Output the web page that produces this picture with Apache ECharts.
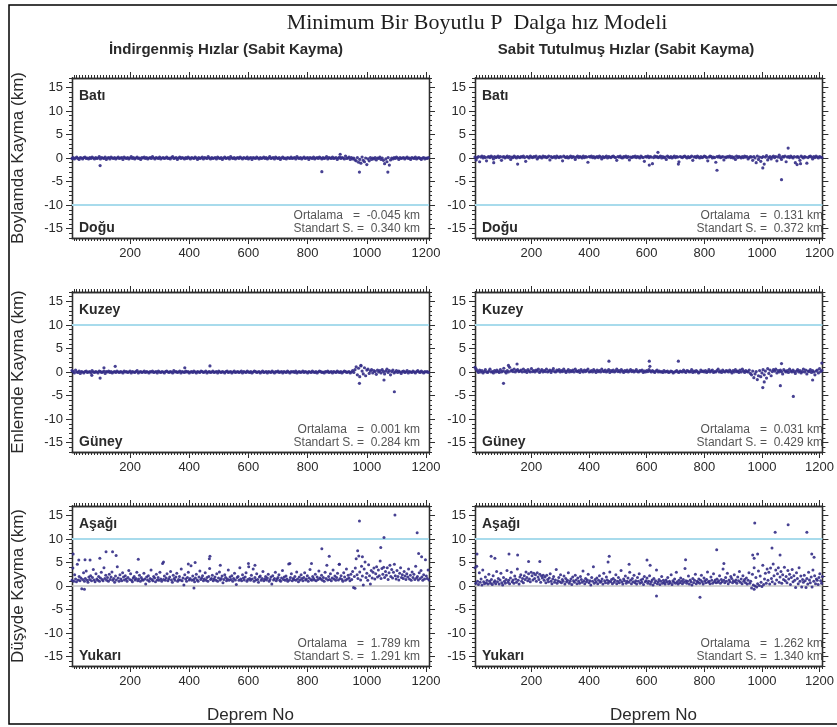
<!DOCTYPE html>
<html>
<head>
<meta charset="utf-8">
<script src="https://cdn.jsdelivr.net/npm/echarts@6/dist/echarts.min.js"></script>
<style>
  html, body { margin: 0; background: #fff; }
  #chart { width: 837px; height: 727px; }
</style>
</head>
<body>
<div id="chart"></div>
<script>
// earthquakes are sampled: value i belongs to earthquake FIRST_EQ + step * i
const FIRST_EQ = 4;
const STEP_H = 4;   // horizontal panels (rows 1-2)
const STEP_V = 3;   // vertical panels (row 3)

const xTicks = [200, 400, 600, 800, 1000, 1200];
const yTicks = [-15, -10, -5, 0, 5, 10, 15];

const chartTitle = 'Minimum Bir Boyutlu P  Dalga hız Modeli';
const colTitles = ['İndirgenmiş Hızlar (Sabit Kayma)', 'Sabit Tutulmuş Hızlar (Sabit Kayma)'];
const rowNames = ['Boylamda Kayma (km)', 'Enlemde Kayma (km)', 'Düşyde Kayma (km)'];
const rowTopWord = ['Batı', 'Kuzey', 'Aşağı'];
const rowBottomWord = ['Doğu', 'Güney', 'Yukarı'];
const cyanLines = [[-10], [10], [10]];
const greyLines = [[], [], [0]];
const meanText = ['-0.045', '0.131', '0.001', '0.031', '1.789', '1.262'];
const stdText = ['0.340', '0.372', '0.284', '0.429', '1.291', '1.340'];

// Boylam (E-W), indirgenmiş hızlar
const ewRed = [
  -0.1,0.1,-0.2,0.0,0.2,-0.1,-0.3,0.1,0.0,-0.2,0.1,0.2,-0.1,0.0,-0.2,0.1,-0.1,0.2,0.0,-0.2,
  0.1,-0.1,0.0,0.3,-0.2,0.1,0.0,-0.1,0.2,-0.3,0.0,0.1,-0.2,0.2,0.0,-0.1,0.1,-0.2,0.0,0.2,
  -0.1,0.0,0.1,-0.3,0.2,0.0,-0.1,0.1,-0.2,0.0,0.3,-0.1,0.1,-0.2,0.0,0.2,-0.1,0.0,-0.3,0.1,
  0.0,0.2,-0.1,0.1,-0.2,0.0,0.1,-0.1,0.3,0.0,-0.2,0.1,0.0,-0.1,0.2,-0.2,0.0,0.1,-0.1,0.0,
  0.2,-0.1,0.0,-0.2,0.1,0.3,-0.1,0.0,0.1,-0.3,0.0,0.2,-0.1,0.1,0.0,-0.2,0.1,-0.1,0.2,0.0,
  -0.2,0.1,0.0,-0.1,0.2,0.0,-0.3,0.1,-0.1,0.0,0.2,-0.2,0.1,0.0,-0.1,0.3,0.0,-0.2,0.1,-0.1,
  0.0,0.1,-0.2,0.2,0.0,-0.1,0.1,-0.3,0.0,0.2,-0.1,0.0,0.1,-0.2,0.3,0.0,-0.1,0.1,-0.2,0.0,
  0.1,-0.1,0.2,0.0,-0.2,0.1,0.0,-0.1,0.2,-0.2,0.0,0.1,-0.3,0.1,0.0,-0.1,0.2,0.0,-0.2,0.1,
  -0.1,0.0,0.2,-0.1,0.1,-0.2,0.0,0.3,-0.1,0.0,0.1,-0.2,0.2,0.0,-0.1,0.1,-0.3,0.0,0.2,-0.1,
  0.0,-0.2,0.1,0.0,-0.1,0.2,-0.1,0.0,0.1,-0.2,0.3,0.0,-0.1,0.1,-0.2,0.0,0.2,-0.1,0.0,0.1,
  -0.3,0.1,0.0,-0.1,0.2,-0.2,0.0,0.1,-0.1,0.2,0.0,-0.2,0.1,-0.1,0.0,0.3,-0.2,0.1,0.0,-0.1,
  0.2,-0.1,0.0,0.1,-0.3,0.0,0.2,-0.1,0.1,0.0,-0.2,0.4,-0.1,0.0,0.2,-0.3,0.1,-0.2,0.0,-0.4,
  -0.6,0.1,-0.9,-0.3,-1.1,0.2,-0.5,-0.8,0.0,-1.4,-0.2,-0.6,0.1,-0.3,0.0,-0.2,0.1,-0.4,0.0,-0.1,
  0.2,-0.3,0.0,-0.5,-1.2,-0.2,-0.8,0.1,-1.5,-0.4,0.0,-0.2,0.1,-0.1,0.2,0.0,-0.3,0.1,-0.1,0.0,
  0.1,-0.2,0.0,0.2,-0.1,0.0,-0.3,0.1,0.0,-0.1,0.2,-0.2,0.0,0.1,-0.1,-0.3,0.0,0.1,-0.2,0.0,
  -0.1,0.1
];
const ewRedOut = [[99, -1.6], [848, -2.9], [910, 0.8], [975, -3.0], [1071, -3.0]];

// Boylam (E-W), sabit tutulmuş hızlar
const ewFix = [
  0.2,-0.4,0.1,0.3,-0.8,0.2,0.4,0.0,0.3,0.1,-0.6,0.2,0.3,0.1,0.4,0.2,-0.2,0.3,0.1,0.2,
  0.4,0.1,0.3,-0.5,0.2,0.3,0.0,0.2,0.4,0.1,0.3,-0.3,0.2,0.1,0.4,0.2,0.0,0.3,0.2,0.1,
  0.3,0.2,0.4,0.1,-0.7,0.3,0.2,0.0,0.4,0.2,0.1,0.3,0.2,0.4,-0.2,0.1,0.3,0.2,0.0,0.4,
  0.2,0.3,0.1,0.2,0.4,-0.4,0.3,0.1,0.2,0.3,0.0,0.4,0.2,0.1,0.3,0.2,-0.6,0.4,0.2,0.1,
  0.3,0.0,0.2,0.4,0.1,0.3,0.2,-0.3,0.2,0.4,0.1,0.3,0.2,0.0,0.4,0.1,0.3,0.2,-0.9,0.3,
  0.2,0.4,0.1,0.3,0.0,0.2,0.3,0.1,0.4,0.2,-0.2,0.3,0.1,0.2,0.4,0.0,0.3,0.2,0.1,0.3,
  0.4,0.2,0.1,-0.5,0.3,0.2,0.4,0.1,0.0,0.3,0.2,0.4,0.1,0.3,-0.4,0.2,0.1,0.3,0.2,0.4,
  0.1,0.3,0.2,0.0,0.4,0.2,0.1,-0.7,0.3,0.2,0.4,0.1,0.3,0.2,-1.2,0.1,0.4,0.2,0.3,0.1,
  0.2,0.4,0.0,0.3,0.1,0.2,-0.3,0.4,0.2,0.1,0.3,0.0,0.2,0.4,0.1,0.3,0.2,-0.8,0.3,0.2,
  0.1,0.3,0.4,0.2,0.0,0.3,0.1,0.2,0.4,-0.5,0.2,0.3,0.1,0.4,0.2,0.0,0.3,0.1,0.2,0.4,
  0.3,0.1,-0.6,0.2,0.4,0.3,0.0,0.2,0.1,-0.9,0.3,0.2,0.4,0.1,0.2,0.3,-0.4,0.2,0.1,0.3,
  0.2,0.4,0.1,0.3,0.0,0.2,-0.3,0.4,0.1,0.3,0.2,0.0,0.3,0.1,0.4,0.2,0.3,-0.2,0.1,0.3,
  0.2,-0.5,0.3,0.0,-1.0,0.4,-0.3,0.2,-0.7,0.1,0.3,-1.3,0.2,0.5,-0.4,0.1,0.3,-0.2,0.2,0.4,
  0.1,0.3,-0.6,0.2,0.6,0.1,-0.3,0.3,0.2,0.4,-0.8,0.2,0.3,0.1,0.4,0.2,0.0,0.3,-1.0,0.2,
  0.3,0.1,-0.5,0.4,0.2,0.0,0.3,0.2,-1.1,0.1,0.3,0.4,0.2,-0.2,0.3,0.1,0.4,0.2,0.0,0.3,
  0.2,0.1
];
const ewFixOut = [[69, -1.0], [152, -1.3], [609, -1.5], [639, 1.2], [710, -1.3], [844, -2.6],
  [1003, -2.1], [1068, -4.6], [1091, 2.1], [1122, -1.4], [1134, -1.2]];

// Enlem (N-S), indirgenmiş hızlar
const nsRed = [
  0.3,0.1,-0.2,0.4,0.0,-0.1,0.2,-0.3,0.1,0.0,-0.2,0.1,0.2,-0.1,0.0,0.1,-0.2,0.3,0.0,-0.1,
  0.1,0.0,-0.2,0.2,0.1,-0.1,0.0,0.2,-0.3,0.1,0.0,0.2,-0.1,0.1,-0.2,0.0,0.1,-0.1,0.2,0.0,
  -0.1,0.1,0.0,-0.2,0.2,0.0,0.1,-0.1,0.0,0.2,-0.2,0.1,0.0,-0.1,0.1,0.3,-0.2,0.0,0.1,-0.1,
  0.0,0.2,-0.1,0.1,0.0,-0.2,0.1,0.0,0.2,-0.1,0.0,0.1,-0.2,0.2,0.0,-0.1,0.1,0.0,-0.2,0.1,
  0.2,0.0,-0.1,0.1,0.0,-0.2,0.3,0.0,0.1,-0.1,0.0,0.2,-0.2,0.1,0.0,-0.1,0.2,0.0,0.1,-0.2,
  0.0,0.1,-0.1,0.2,0.0,-0.2,0.1,0.0,-0.1,0.2,0.1,-0.1,0.0,0.2,-0.2,0.0,0.1,-0.1,0.0,0.2,
  -0.1,0.0,0.1,-0.2,0.2,0.0,-0.1,0.1,0.0,-0.2,0.1,0.2,-0.1,0.0,0.1,-0.2,0.0,0.2,-0.1,0.0,
  0.1,-0.1,0.0,0.2,-0.2,0.1,0.0,-0.1,0.2,0.0,-0.1,0.1,-0.2,0.0,0.2,0.1,-0.1,0.0,0.1,-0.2,
  0.0,0.2,-0.1,0.0,0.1,-0.2,0.1,0.0,-0.1,0.2,0.0,-0.2,0.1,0.0,0.2,-0.1,0.0,0.1,-0.2,0.1,
  0.0,-0.1,0.2,0.0,-0.2,0.1,0.0,0.1,-0.1,0.2,-0.2,0.0,0.1,-0.1,0.0,0.2,-0.1,0.1,0.0,-0.2,
  0.1,0.0,-0.1,0.2,0.0,-0.1,0.1,-0.2,0.0,0.2,0.1,-0.1,0.0,-0.2,0.1,0.0,0.2,-0.1,0.0,0.1,
  -0.2,0.1,0.0,-0.1,0.2,0.0,-0.1,0.1,-0.2,0.0,0.2,0.1,-0.1,0.0,0.1,-0.2,0.0,0.3,-0.1,0.5,
  1.1,-0.6,0.8,-1.0,1.3,0.2,-0.4,0.9,-0.8,0.4,0.6,-0.3,0.2,0.5,-0.2,0.3,0.1,-0.5,0.4,0.0,
  0.3,-0.2,0.5,0.1,-0.4,0.2,0.6,-0.1,0.3,-0.6,0.1,0.4,-0.2,0.0,0.3,-0.1,0.2,0.0,-0.3,0.1,
  0.2,-0.1,0.0,0.3,-0.2,0.1,0.0,-0.1,0.2,0.0,-0.2,0.1,0.3,0.0,-0.1,0.2,0.0,-0.2,0.1,0.0,
  0.1,-0.1
];
const nsRedOut = [[71, -0.7], [99, -1.3], [112, 0.9], [150, 1.2], [385, 0.9], [470, 1.3],
  [975, -2.4], [980, 1.4], [1058, -1.7], [1093, -4.2]];

// Enlem (N-S), sabit tutulmuş hızlar
const nsFix = [
  1.0,0.6,0.2,-0.1,0.4,0.0,0.3,-0.2,0.1,0.5,0.0,-0.1,0.2,0.6,0.0,0.1,-0.2,0.3,0.0,0.4,
  0.1,-0.1,0.5,0.0,0.2,0.8,0.1,-0.2,0.3,0.0,1.0,0.2,0.4,0.1,0.6,0.0,0.3,0.5,0.1,0.2,
  0.4,0.0,0.6,0.1,0.3,-0.1,0.5,0.2,0.0,0.7,0.1,0.3,0.0,0.4,0.2,0.6,-0.1,0.2,0.5,0.0,
  0.3,0.1,0.6,0.0,0.2,0.4,-0.1,0.3,0.7,0.1,0.0,0.4,0.2,0.5,0.0,0.3,0.1,0.6,0.2,-0.1,
  0.2,0.5,0.0,0.3,0.1,0.4,0.0,0.6,0.2,0.1,0.3,-0.1,0.5,0.2,0.0,0.4,0.1,0.3,0.6,0.0,
  0.1,0.3,0.0,0.5,0.2,-0.1,0.4,0.1,0.3,0.0,0.6,0.2,0.1,0.4,0.0,0.2,0.5,-0.1,0.3,0.1,
  0.4,0.0,0.2,0.6,0.1,0.3,0.0,0.5,0.2,-0.1,0.3,0.1,0.4,0.0,0.2,0.5,0.1,0.3,0.0,0.2,
  0.5,0.1,0.0,0.3,0.2,0.4,-0.1,0.2,0.0,0.3,0.1,0.5,0.2,0.0,0.3,0.1,-0.1,0.2,0.4,0.0,
  0.2,0.0,0.1,-0.1,0.3,0.0,0.1,0.2,-0.1,0.0,0.2,0.1,-0.2,0.0,0.1,0.3,0.0,-0.1,0.2,0.1,
  0.0,0.4,0.1,-0.1,0.3,0.2,0.0,0.1,0.5,-0.1,0.2,0.0,0.3,0.1,-0.2,0.0,0.4,0.1,0.2,0.0,
  0.3,-0.1,0.1,0.5,0.0,0.2,0.4,-0.1,0.1,0.0,0.3,0.6,0.0,0.2,-0.1,0.4,0.1,0.0,0.3,0.2,
  0.0,0.4,0.1,-0.2,0.3,0.0,0.5,0.1,0.2,-0.1,0.4,0.0,0.6,0.2,-0.1,0.3,0.1,0.0,0.4,-0.3,
  -0.6,0.2,-1.2,-0.4,0.1,-1.6,-0.8,0.3,-1.0,-0.2,0.5,-0.6,0.2,-1.3,0.7,-0.3,0.4,-0.8,0.1,0.5,
  0.2,0.6,-0.2,0.3,0.0,0.4,0.1,-0.4,0.5,0.2,0.0,0.3,-0.1,0.6,0.2,0.0,0.4,0.1,-0.3,0.2,
  0.5,0.0,0.3,-0.2,0.1,0.6,0.0,0.4,-0.4,0.2,0.1,0.5,-0.1,0.3,0.0,-0.6,0.2,0.4,-0.2,0.7,
  0.1,0.3
];
const nsFixOut = [[103, -2.4], [120, 1.4], [150, 1.7], [469, 2.3], [609, 2.3], [611, 1.2],
  [710, 2.3], [1003, -3.3], [1008, -2.1], [1064, -2.9], [1068, 1.8], [1109, -5.2],
  [1176, -1.7], [1208, 1.9]];

// Düşey, indirgenmiş hızlar
const udRed = [
  1.2,3.8,1.0,2.4,1.5,0.9,4.6,1.3,2.0,1.1,1.7,-0.6,1.4,2.8,1.0,1.6,3.2,1.2,0.8,1.9,
  1.4,2.2,1.1,1.8,3.5,1.3,0.9,2.6,1.5,1.2,2.0,1.0,1.7,2.9,1.4,1.1,3.9,1.6,2.3,1.2,
  1.8,1.0,2.5,1.4,1.9,3.0,1.2,1.6,0.8,2.1,1.3,4.1,1.7,1.0,2.4,1.5,1.1,2.8,1.9,1.3,
  2.2,1.5,1.0,1.8,3.3,1.4,2.6,1.2,0.9,1.7,2.0,1.3,1.6,2.9,1.1,1.5,2.3,1.0,1.8,1.4,
  1.2,2.7,1.5,0.4,1.9,1.3,2.2,1.0,1.6,3.4,1.4,1.1,2.0,1.7,0.9,2.5,1.3,1.8,1.2,2.9,
  1.5,1.0,4.8,1.4,2.1,1.2,1.7,2.6,1.1,1.5,1.9,3.1,1.3,0.8,2.3,1.6,1.2,1.9,2.7,1.0,
  1.4,2.0,1.3,3.6,1.1,1.7,0.2,2.4,1.5,1.0,1.8,2.9,1.3,1.6,4.3,1.2,2.1,1.4,0.9,1.7,
  2.5,1.3,1.0,1.9,3.2,1.4,1.7,2.2,1.1,1.5,2.8,1.2,1.8,1.0,2.0,3.7,1.4,1.6,2.3,1.1,
  1.5,1.9,1.2,2.6,1.0,1.7,3.0,1.3,1.6,2.1,0.7,1.4,2.4,1.8,1.1,1.5,3.4,1.2,1.9,1.4,
  2.2,1.0,1.6,2.7,1.3,0.3,1.8,2.0,1.2,3.9,1.5,1.1,2.4,1.7,1.3,1.9,2.8,1.0,1.4,4.1,
  1.6,1.2,2.3,1.5,3.6,1.0,1.8,1.3,2.6,1.4,0.8,1.9,2.1,1.2,1.6,3.1,1.1,1.5,2.0,1.3,
  1.7,2.5,1.0,1.4,1.9,0.4,2.2,1.3,1.6,2.9,1.1,1.5,1.8,2.4,1.2,1.0,1.7,3.3,1.4,1.9,
  1.2,2.1,1.5,1.0,4.7,1.3,1.8,2.6,1.1,1.6,1.4,2.0,1.2,3.0,1.5,0.9,1.9,1.3,2.4,1.6,
  1.1,1.8,2.8,1.3,1.5,2.2,1.0,1.7,3.5,1.4,1.2,2.0,1.6,1.3,2.5,1.1,1.9,1.4,3.2,1.7,
  1.5,2.3,1.2,1.8,1.0,2.9,1.6,4.4,1.3,2.0,1.4,2.6,1.1,1.7,3.4,1.5,2.1,1.2,1.8,2.7,
  1.3,4.6,1.6,2.2,1.4,1.0,2.8,1.9,1.2,3.6,1.5,2.3,1.7,1.1,2.5,1.4,3.1,-0.3,2.0,3.8,
  5.8,2.4,1.6,6.4,3.0,1.3,4.2,2.1,0.2,3.6,5.1,1.8,2.7,1.2,4.5,2.2,0.4,3.3,1.7,2.9,
  3.8,1.5,2.6,4.1,1.9,3.4,2.2,5.3,1.6,3.7,2.5,4.0,1.8,3.1,2.3,3.9,1.4,2.8,4.4,2.0,
  3.5,1.7,2.9,4.6,2.2,1.5,3.3,2.0,1.3,2.7,3.9,1.8,2.4,1.6,3.1,2.1,1.4,2.6,1.9,3.6,
  1.5,2.3,1.2,3.0,1.8,2.5,1.4,4.2,1.7,2.0,1.3,2.8,1.6,3.3,1.9,1.2,2.4,1.5,5.6,2.1,
  1.6,3.4,1.3
];
const udRedOut = [[8, 6.8], [27, 5.5], [48, 5.6], [65, 5.5], [98, 5.9], [119, 7.3], [141, 7.3],
  [153, 6.5], [228, 5.7], [313, 5.1], [397, 4.7], [420, 5.0], [468, 5.8], [470, 6.3], [505, 4.4],
  [600, 4.8], [622, 4.4], [740, 4.8], [813, 4.8], [848, 7.9], [873, 6.3], [907, 4.6], [969, 7.5],
  [975, 13.8], [985, 6.2], [1047, 8.2], [1058, 10.3], [1095, 15.1], [1170, 11.3], [1175, 6.9],
  [1185, 6.2], [46, -0.7], [416, -0.4], [960, -0.5]];

// Düşey, sabit tutulmuş hızlar
const udFix = [
  3.9,0.6,4.2,1.0,0.3,2.8,0.8,1.5,0.2,3.4,0.9,0.5,1.9,0.7,1.2,0.4,2.5,1.0,0.6,1.4,
  0.3,2.2,0.8,1.1,0.5,3.1,0.9,1.6,0.4,1.3,2.7,0.7,0.2,1.8,1.0,0.6,1.4,3.3,0.8,1.2,
  0.5,1.7,2.9,0.9,1.3,0.6,2.1,1.5,0.8,3.6,1.2,0.4,1.9,2.4,1.0,1.6,0.7,2.2,1.4,3.0,
  1.8,1.1,2.6,1.5,0.9,2.9,2.2,1.3,2.7,1.6,2.4,1.0,2.8,1.9,1.4,2.5,0.8,2.1,1.7,2.3,
  1.2,1.9,0.7,2.3,1.4,0.9,1.7,2.6,1.0,0.5,1.5,2.0,0.8,1.3,3.5,0.6,1.1,1.8,0.9,2.4,
  0.7,1.4,1.0,2.1,0.4,1.6,0.9,1.2,2.8,0.6,1.0,1.5,0.3,1.9,1.1,0.8,2.3,1.3,0.5,1.7,
  1.0,0.6,2.0,1.4,0.8,3.2,1.1,0.5,1.6,0.9,1.3,2.5,0.7,1.1,0.2,1.8,1.0,4.1,0.6,1.4,
  0.9,1.7,0.5,1.2,2.2,0.8,1.0,1.5,0.4,2.7,1.1,0.7,1.9,1.3,0.6,1.0,3.0,0.9,1.4,0.5,
  1.6,0.8,1.2,2.4,0.5,1.0,1.8,0.7,1.3,3.3,0.9,0.4,1.5,1.1,2.1,0.6,1.0,1.7,0.8,2.9,
  1.2,0.5,1.6,0.9,2.3,0.7,1.1,0.4,1.8,1.0,2.6,0.6,1.3,0.8,1.5,0.3,2.0,0.9,1.1,1.7,
  0.6,1.0,2.2,0.4,0.9,1.3,0.2,1.6,0.7,1.1,3.4,0.5,0.9,1.4,0.3,1.0,2.0,0.6,1.2,0.8,
  0.4,1.3,0.9,1.8,0.5,1.0,0.7,2.4,0.3,1.1,0.8,1.5,0.6,2.9,0.9,0.4,1.2,0.7,1.7,1.0,
  0.5,1.4,0.8,3.7,1.1,0.6,1.0,2.1,0.4,1.3,0.9,0.2,1.6,0.7,1.2,2.5,0.5,1.0,0.8,1.5,
  0.6,1.2,2.3,0.9,0.4,1.7,1.1,0.7,1.4,3.0,0.8,1.0,0.5,1.9,1.2,0.6,2.6,0.9,1.3,0.7,
  1.5,0.8,1.1,2.2,0.6,1.4,0.9,3.6,1.2,0.7,1.8,1.0,2.7,0.5,1.3,0.9,2.0,1.6,0.7,1.1,
  2.4,0.9,1.3,0.6,1.9,1.1,3.1,0.8,1.5,0.5,2.2,1.0,1.4,0.7,1.7,0.4,1.2,2.8,0.6,1.0,
  -0.4,2.5,0.2,3.9,0.0,1.8,-0.2,0.5,3.2,0.1,2.1,0.8,-0.1,4.4,0.3,1.5,2.7,0.6,3.6,1.2,
  2.9,0.4,3.8,1.6,0.9,4.7,2.2,0.5,3.4,1.3,2.6,3.9,0.8,1.9,3.1,0.6,2.4,1.4,4.0,1.1,
  2.0,0.7,3.3,1.5,2.5,0.3,1.8,3.5,0.9,2.2,1.2,-0.3,2.8,1.6,0.5,3.9,1.0,2.1,-0.2,1.4,
  0.8,2.3,1.1,-0.3,1.6,0.4,2.9,1.3,0.7,1.9,-0.2,3.4,1.0,2.2,0.5,1.5,1.2,0.3,1.8,2.6,
  1.1,0.6,2.0
];
const udFixOut = [[11, 6.8], [60, 6.3], [73, 5.9], [122, 6.8], [152, 6.6], [190, 5.2], [229, 5.2],
  [466, 5.1], [470, 6.3], [539, 4.6], [601, 5.5], [612, 4.4], [735, 5.6], [843, 7.7], [868, 4.8],
  [968, 6.6], [973, 5.9], [975, 13.4], [985, 6.8], [1035, 8.1], [1046, 11.4], [1063, 6.6],
  [1091, 13.0], [1156, 11.4], [1173, 6.8], [1181, 6.1], [634, -2.1], [785, -2.4], [973, -0.7]];

const panels = [
  { y: ewRed, step: STEP_H, out: ewRedOut },
  { y: ewFix, step: STEP_H, out: ewFixOut },
  { y: nsRed, step: STEP_H, out: nsRedOut },
  { y: nsFix, step: STEP_H, out: nsFixOut },
  { y: udRed, step: STEP_V, out: udRedOut },
  { y: udFix, step: STEP_V, out: udFixOut }
];

// layout
const colLeft = [72, 475], rowTop = [78, 292, 506];
const W = 357, H = 160;
const X_MIN = 4, X_MAX = 1210, Y_MIN = -17, Y_MAX = 17;
const INK = '#2e2e2e', DOT = '#332c86', CYAN = '#a8dbec', GREY = '#c4c4c4';
const SANS = '"Liberation Sans", Arial, sans-serif';
const DOT_SIZE = [3.2, 3.2, 3];

const minorX = [];
for (let v = 10; v <= X_MAX; v += 10) minorX.push(v);
const minorY = [];
for (let v = Y_MIN; v <= Y_MAX; v++) minorY.push(v);

function axis(g, pos, min, max, ticks, len, labels) {
  return {
    type: 'value', gridIndex: g, position: pos, min: min, max: max,
    axisLine: { show: true, onZero: false, lineStyle: { color: INK, width: 1.3 } },
    axisTick: { show: true, inside: false, length: len, customValues: ticks,
      lineStyle: { color: INK, width: 1 } },
    axisLabel: labels
      ? { show: true, customValues: ticks, fontSize: 13, color: '#2a2a2a', margin: 9, fontFamily: SANS,
          formatter: function (v) { return String(v); } }
      : { show: false },
    splitLine: { show: false }
  };
}

const grid = [], xAxis = [], yAxis = [], series = [], graphic = [];

graphic.push({ type: 'rect', shape: { x: 9, y: 5, width: 840, height: 719 },
  style: { fill: 'none', stroke: '#000', lineWidth: 1.5 }, silent: true });
graphic.push({ type: 'text', x: 477, y: 23,
  style: { text: chartTitle, font: '22px "Liberation Serif", "Times New Roman", serif',
    fill: '#1e1e1e', align: 'center', verticalAlign: 'middle' } });
colTitles.forEach(function (t, c) {
  graphic.push({ type: 'text', x: c === 0 ? 226 : 626, y: 50,
    style: { text: t, font: 'bold 15px ' + SANS, fill: '#2a2a2a', align: 'center', verticalAlign: 'middle' } });
});

panels.forEach(function (p, k) {
  const row = Math.floor(k / 2), col = k % 2;
  const left = colLeft[col], top = rowTop[row];
  grid.push({ left: left, top: top, width: W, height: H });

  xAxis.push(axis(k, 'bottom', X_MIN, X_MAX, xTicks, 6, true));
  xAxis.push(axis(k, 'bottom', X_MIN, X_MAX, minorX, 3, false));
  xAxis.push(axis(k, 'top', X_MIN, X_MAX, xTicks, 6, false));
  xAxis.push(axis(k, 'top', X_MIN, X_MAX, minorX, 3, false));

  const yMain = axis(k, 'left', Y_MIN, Y_MAX, yTicks, 6, true);
  if (col === 0) {
    yMain.name = rowNames[row];
    yMain.nameLocation = 'middle';
    yMain.nameRotate = 90;
    yMain.nameGap = 45;
    yMain.nameTextStyle = { fontSize: 17, color: '#2a2a2a', fontFamily: SANS };
  }
  yAxis.push(yMain);
  yAxis.push(axis(k, 'left', Y_MIN, Y_MAX, minorY, 3, false));
  yAxis.push(axis(k, 'right', Y_MIN, Y_MAX, yTicks, 6, false));
  yAxis.push(axis(k, 'right', Y_MIN, Y_MAX, minorY, 3, false));

  const lines = cyanLines[row].map(function (v) {
    return { yAxis: v, lineStyle: { color: CYAN, width: 2, type: 'solid' } };
  }).concat(greyLines[row].map(function (v) {
    return { yAxis: v, lineStyle: { color: GREY, width: 1.5, type: 'solid' } };
  }));

  const pts = p.y.map(function (v, i) { return [FIRST_EQ + p.step * i, v]; }).concat(p.out);
  series.push({
    type: 'scatter', xAxisIndex: k * 4, yAxisIndex: k * 4, data: pts,
    symbol: 'circle', symbolSize: DOT_SIZE[row], itemStyle: { color: DOT, opacity: 0.9 },
    silent: true, z: 3,
    markLine: { silent: true, symbol: 'none', z: 1, label: { show: false }, data: lines }
  });

  graphic.push({ type: 'text', x: left + 7, y: top + 18,
    style: { text: rowTopWord[row], font: 'bold 14px ' + SANS, fill: '#2a2a2a', align: 'left', verticalAlign: 'middle' } });
  graphic.push({ type: 'text', x: left + 7, y: top + H - 10,
    style: { text: rowBottomWord[row], font: 'bold 14px ' + SANS, fill: '#2a2a2a', align: 'left', verticalAlign: 'middle' } });
  graphic.push({ type: 'text', x: left + W - 9, y: top + H - 22,
    style: { text: 'Ortalama   =  ' + meanText[k] + ' km', font: '12px ' + SANS, fill: '#555', align: 'right', verticalAlign: 'middle' } });
  graphic.push({ type: 'text', x: left + W - 9, y: top + H - 9,
    style: { text: 'Standart S. =  ' + stdText[k] + ' km', font: '12px ' + SANS, fill: '#555', align: 'right', verticalAlign: 'middle' } });

  if (row === 2) {
    graphic.push({ type: 'text', x: left + W / 2, y: 715,
      style: { text: 'Deprem No', font: '17px ' + SANS, fill: '#2a2a2a', align: 'center', verticalAlign: 'middle' } });
  }
});

const chart = echarts.init(document.getElementById('chart'));
chart.setOption({
  animation: false,
  backgroundColor: '#fff',
  grid: grid,
  xAxis: xAxis,
  yAxis: yAxis,
  series: series,
  graphic: graphic
});
</script>
</body>
</html>
